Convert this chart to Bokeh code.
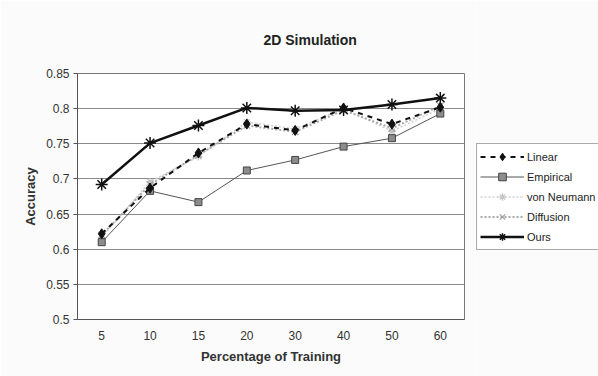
from bokeh.plotting import figure
from bokeh.layouts import row
from bokeh.models import FactorRange, Range1d, FixedTicker, Legend, LegendItem
from bokeh.embed import file_html
from bokeh.resources import INLINE

categories = ["5", "10", "15", "20", "30", "40", "50", "60"]
linear = [0.622, 0.687, 0.737, 0.778, 0.769, 0.801, 0.778, 0.802]
empirical = [0.610, 0.683, 0.667, 0.712, 0.727, 0.746, 0.758, 0.793]
von_neumann = [0.617, 0.696, 0.732, 0.781, 0.771, 0.800, 0.768, 0.800]
diffusion = [0.620, 0.692, 0.734, 0.776, 0.767, 0.798, 0.772, 0.804]
ours = [0.692, 0.751, 0.776, 0.801, 0.797, 0.798, 0.806, 0.815]
y_ticks = [0.5, 0.55, 0.6, 0.65, 0.7, 0.75, 0.8, 0.85]
y_tick_labels = ["0.5", "0.55", "0.6", "0.65", "0.7", "0.75", "0.8", "0.85"]
series_names = ["Linear", "Empirical", "von Neumann", "Diffusion", "Ours"]

FONT = "Liberation Sans"
BG = "#fbfbfb"

p = figure(width=475, height=376, x_range=FactorRange(*categories),
           y_range=Range1d(0.5, 0.85), output_backend="svg", toolbar_location=None,
           min_border_left=77, min_border_right=11, min_border_top=73, min_border_bottom=57)
p.background_fill_color = "white"
p.border_fill_color = BG
p.outline_line_color = "#777777"
p.outline_line_width = 1

p.title.text = "2D Simulation"
p.title.text_font = FONT
p.title.text_font_size = "14px"
p.title.text_font_style = "bold"
p.title.align = "left"
p.title.text_color = "#222222"
p.title.offset = 186
p.title.standoff = 52

p.xgrid.grid_line_color = None
p.ygrid.grid_line_color = "#8a8a8a"
p.ygrid.grid_line_width = 1
p.yaxis.ticker = FixedTicker(ticks=y_ticks)
p.yaxis.major_label_overrides = {t: l for t, l in zip(y_ticks, y_tick_labels)}
p.yaxis.minor_tick_line_color = None
p.yaxis.major_tick_out = 4
p.yaxis.major_tick_in = 0
p.xaxis.major_tick_out = 0
p.xaxis.major_tick_in = 0
for ax in (p.xaxis, p.yaxis):
    ax.axis_line_color = "#555555"
    ax.major_tick_line_color = "#555555"
    ax.major_label_text_font = FONT
    ax.major_label_text_font_size = "12px"
    ax.major_label_text_color = "#333333"
    ax.axis_label_text_font = FONT
    ax.axis_label_text_font_size = "13px"
    ax.axis_label_text_font_style = "bold"
    ax.axis_label_text_color = "#333333"
p.xaxis.axis_label = "Percentage of Training"
p.yaxis.axis_label = "Accuracy"
p.xaxis.major_label_standoff = 11
p.xaxis.axis_label_standoff = 6
p.yaxis.major_label_standoff = 4
p.yaxis.axis_label_standoff = 5


def draw(fig):
    rv_l = fig.line(categories, von_neumann, line_color="#cfcfcf", line_width=1.5, line_dash="2 2")
    rv_m = fig.scatter(categories, von_neumann, marker="asterisk", size=8, line_color="#c4c4c4", line_width=1.2)
    rd_l = fig.line(categories, diffusion, line_color="#a8a8a8", line_width=2, line_dash="2 2")
    rd_m = fig.scatter(categories, diffusion, marker="x", size=9, line_color="#a0a0a0", line_width=1.2)
    re_l = fig.line(categories, empirical, line_color="#555555", line_width=1)
    re_m = fig.scatter(categories, empirical, marker="square", size=7, fill_color="#8c8c8c", line_color="#444444", line_width=1)
    rl_l = fig.line(categories, linear, line_color="#111111", line_width=2, line_dash="5 5")
    rl_m = fig.scatter(categories, linear, marker="diamond", size=10, fill_color="#111111", line_color="#111111")
    ro_l = fig.line(categories, ours, line_color="#111111", line_width=2.5)
    ro_m = fig.scatter(categories, ours, marker="asterisk", size=12, line_color="#111111", line_width=1.5)
    return [[rl_l, rl_m], [re_l, re_m], [rv_l, rv_m], [rd_l, rd_m], [ro_l, ro_m]]


draw(p)

# legend panel: same series, drawn outside its visible range so only the legend shows
q = figure(width=123, height=376, x_range=FactorRange(*categories), y_range=Range1d(0.0, 0.1),
           output_backend="svg", toolbar_location=None,
           min_border_left=0, min_border_right=0, min_border_top=0, min_border_bottom=0)
q.axis.visible = False
q.grid.grid_line_color = None
q.outline_line_color = None
q.background_fill_color = BG
q.border_fill_color = BG
groups = draw(q)

legend = Legend(items=[LegendItem(label=n, renderers=g) for n, g in zip(series_names, groups)],
                location=(1, 69))
legend.label_text_font = FONT
legend.label_text_font_size = "11px"
legend.label_text_color = "#222222"
legend.glyph_width = 44
legend.glyph_height = 19
legend.label_height = 19
legend.label_standoff = 3
legend.spacing = 1
legend.padding = 3
legend.margin = 0
legend.border_line_color = "#555555"
legend.border_line_width = 1
legend.background_fill_color = "white"
legend.background_fill_alpha = 1
q.add_layout(legend, "center")

layout = row(p, q, spacing=0)
open("out.html", "w").write(file_html(layout, INLINE))
